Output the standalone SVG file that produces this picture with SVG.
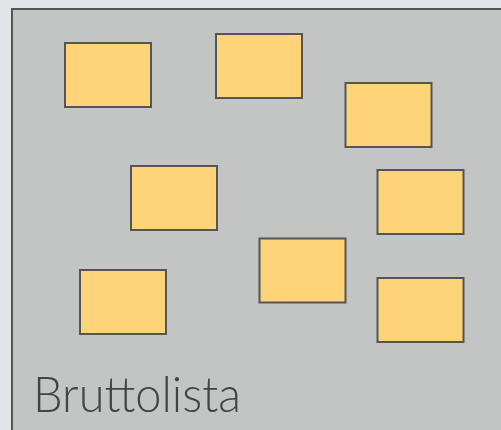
<svg xmlns="http://www.w3.org/2000/svg" width="501" height="430" viewBox="0 0 501 430">
<style>
.n{fill:#ffd479;stroke:#555;stroke-width:2}
</style>
<rect x="0" y="0" width="501" height="430" fill="#e1e5ea"/>
<rect id="frame" x="12" y="9" width="495" height="430" fill="#c2c5c4" stroke="#555" stroke-width="2"/>
<g id="connectors"></g>
<g id="n1"><rect class="n" x="65" y="43" width="86" height="64"/></g>
<g id="n2"><rect class="n" x="216" y="34" width="86" height="64"/></g>
<g id="n3"><rect class="n" x="345.5" y="83" width="86" height="64"/></g>
<g id="n4"><rect class="n" x="131" y="166" width="86" height="64"/></g>
<g id="n5"><rect class="n" x="377.5" y="170" width="86" height="64"/></g>
<g id="n6"><rect class="n" x="259.5" y="238.5" width="86" height="64"/></g>
<g id="n7"><rect class="n" x="80" y="270" width="86" height="64"/></g>
<g id="n8"><rect class="n" x="377.5" y="278" width="86" height="64"/></g>
<text x="33" y="412" font-family="Lato, 'Open Sans', sans-serif" font-weight="300" font-size="50" fill="#444" textLength="208" lengthAdjust="spacingAndGlyphs">Bruttolista</text>
</svg>
